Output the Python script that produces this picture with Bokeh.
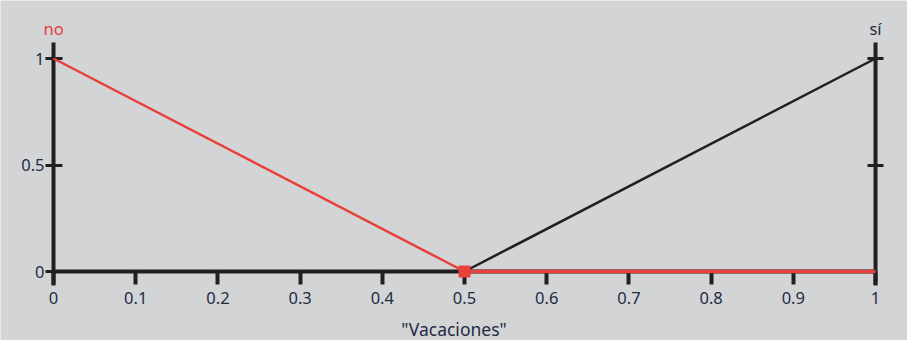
from bokeh.plotting import figure
from bokeh.models import Range1d, LinearAxis, FixedTicker, Label
from bokeh.embed import file_html
from bokeh.resources import INLINE

# data
x_ticks = [0, 0.1, 0.2, 0.3, 0.4, 0.5, 0.6, 0.7, 0.8, 0.9, 1]
x_tick_labels = ["0", "0.1", "0.2", "0.3", "0.4", "0.5", "0.6", "0.7", "0.8", "0.9", "1"]
y_ticks_left = [0, 0.5, 1]
y_ticks_right = [0.5, 1]
y_tick_labels = ["0", "0.5", "1"]
no_x = [0, 0.5, 1]
no_y = [1, 0, 0]
si_x = [0.5, 1]
si_y = [0, 1]
cross_x = [0.5]
cross_y = [0]
x_title = '"Vacaciones"'
label_no = "no"
label_si = "sí"

BG = "#d3d4d6"
RED = "#e8403a"
DARK = "#231f20"
TXT = "#1f2a44"
FONT = "Noto Sans"

# frame covers the whole figure; axes are placed at data positions
p = figure(width=907, height=340, output_backend="svg", toolbar_location=None,
           x_range=Range1d(-0.0645, 1.0389), y_range=Range1d(-0.3239, 1.2723),
           min_border_left=0, min_border_right=0, min_border_top=0, min_border_bottom=0)
p.background_fill_color = BG
p.border_fill_color = BG
p.outline_line_color = None
p.grid.visible = False

# axis lines (vertical axes extend slightly beyond 0..1, x axis spans 0..1)
y_lo, y_hi = -0.0657, 1.075
p.segment(x0=[x_ticks[0], x_ticks[-1], x_ticks[0]], y0=[y_lo, y_lo, 0],
          x1=[x_ticks[0], x_ticks[-1], x_ticks[-1]], y1=[y_hi, y_hi, 0],
          line_color=DARK, line_width=[4, 4, 4], line_cap="butt")

# x axis at y=0
xa = p.xaxis[0]
xa.fixed_location = 0
xa.ticker = FixedTicker(ticks=x_ticks)
xa.major_label_overrides = {t: l for t, l in zip(x_ticks, x_tick_labels)}
xa.axis_line_color = None
xa.major_tick_line_width = 4
xa.major_tick_line_color = DARK
xa.major_tick_in = 0
xa.major_tick_out = 13
xa.minor_tick_line_color = None
xa.major_label_text_font = FONT
xa.major_label_text_font_size = "16.5px"
xa.major_label_text_color = TXT
xa.major_label_standoff = 7
xa.axis_label = x_title
xa.axis_label_text_font = FONT
xa.axis_label_text_font_style = "normal"
xa.axis_label_text_font_size = "17.5px"
xa.axis_label_text_color = TXT
xa.axis_label_standoff = 10

# left axis at x=0
ya = p.yaxis[0]
ya.fixed_location = 0
ya.ticker = FixedTicker(ticks=y_ticks_left)
ya.major_label_overrides = {t: l for t, l in zip(y_ticks_left, y_tick_labels)}
ya.axis_line_color = None
ya.major_tick_line_width = 3
ya.major_tick_line_color = DARK
ya.major_tick_in = 9
ya.major_tick_out = 8
ya.minor_tick_line_color = None
ya.major_label_text_font = FONT
ya.major_label_text_font_size = "16.5px"
ya.major_label_text_color = TXT
ya.major_label_standoff = 1

# right axis at x=1 (ticks only)
ra = LinearAxis(ticker=FixedTicker(ticks=y_ticks_right), fixed_location=1)
ra.axis_line_color = None
ra.major_tick_line_width = 3
ra.major_tick_line_color = DARK
ra.major_tick_in = 8
ra.major_tick_out = 8
ra.minor_tick_line_color = None
ra.major_label_text_font_size = "0px"
ra.major_label_text_alpha = 0
p.add_layout(ra, "right")

# lines
r1 = p.line(si_x, si_y, line_color=DARK, line_width=2.5)
r2 = p.line(no_x[:2], no_y[:2], line_color=RED, line_width=2.5)
r3 = p.line(no_x[1:], no_y[1:], line_color=RED, line_width=3.5)
r4 = p.scatter(cross_x, cross_y, marker="square", size=11, fill_color=RED, line_color=RED)
for r in (r1, r2, r3, r4):
    r.level = "overlay"

p.add_layout(Label(x=no_x[0], y=no_y[0], text=label_no, text_color=RED, text_font=FONT,
                   text_font_size="16.5px", text_align="center", text_baseline="middle",
                   y_offset=30))
p.add_layout(Label(x=si_x[-1], y=si_y[-1], text=label_si, text_color=TXT, text_font=FONT,
                   text_font_size="16.5px", text_align="center", text_baseline="middle",
                   y_offset=30))

open("out.html", "w").write(file_html(p, INLINE))
